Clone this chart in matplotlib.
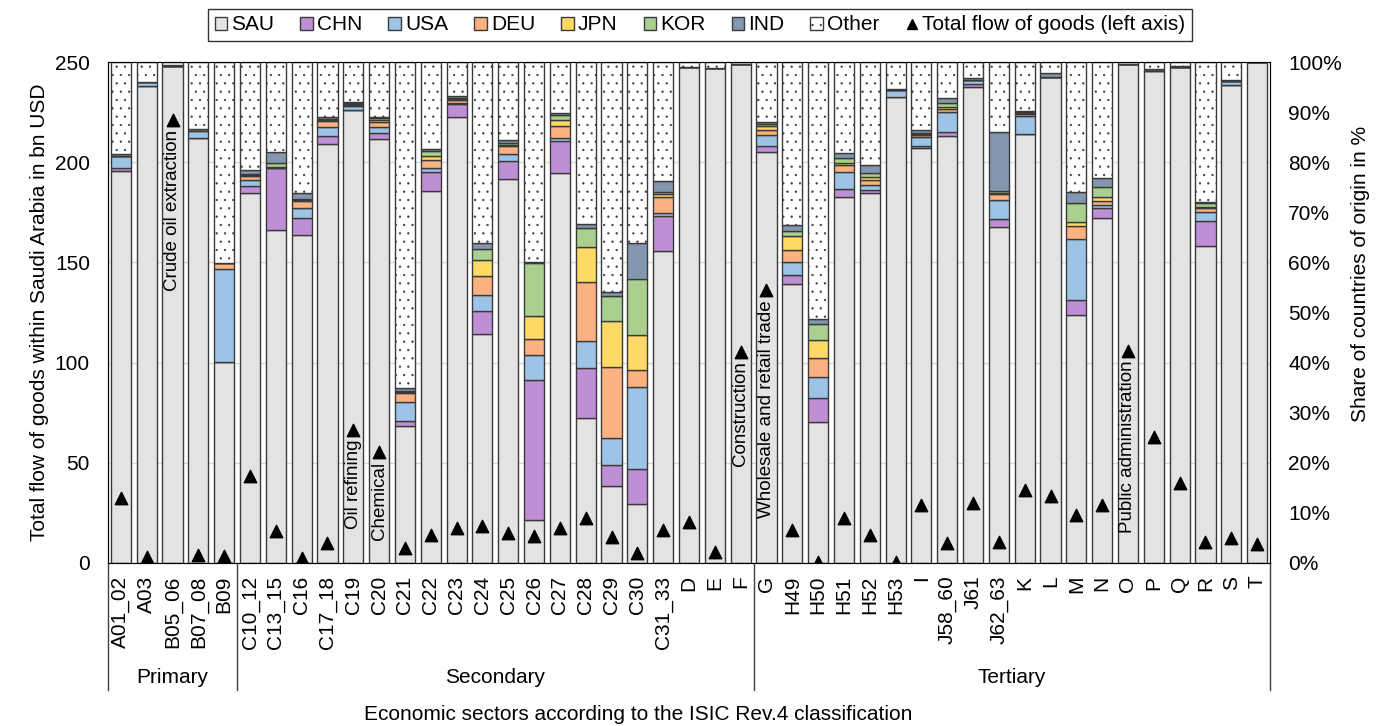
import matplotlib
matplotlib.use("Agg")
import matplotlib.pyplot as plt
from matplotlib.patches import Patch
from matplotlib.lines import Line2D
import numpy as np

plt.rcParams['font.family'] = ['Liberation Sans', 'DejaVu Sans']
plt.rcParams['hatch.color'] = '#808080'
plt.rcParams['hatch.linewidth'] = 0.4

sectors = ["A01_02", "A03", "B05_06", "B07_08", "B09",
           "C10_12", "C13_15", "C16", "C17_18", "C19", "C20", "C21", "C22", "C23", "C24",
           "C25", "C26", "C27", "C28", "C29", "C30", "C31_33", "D", "E", "F",
           "G", "H49", "H50", "H51", "H52", "H53", "I", "J58_60", "J61", "J62_63",
           "K", "L", "M", "N", "O", "P", "Q", "R", "S", "T"]

# shares in % (Other = remainder to 100)
sau = [78.2, 95.2, 99.2, 84.8, 40.1,
       73.8, 66.5, 65.5, 83.6, 90.4, 84.6, 27.3, 74.3, 89.1, 45.8,
       76.6, 8.6, 77.9, 28.9, 15.4, 11.7, 62.3, 99.1, 98.9, 99.7,
       82.1, 55.6, 28.2, 73.1, 73.9, 93.1, 82.8, 85.3, 95.1, 67.0,
       85.6, 97.1, 49.5, 68.8, 99.7, 98.2, 99.1, 63.3, 95.5, 100.0]
chn = [0.7, 0, 0, 0, 0,
       1.4, 12.3, 3.4, 1.7, 0, 1.2, 1.0, 3.7, 2.5, 4.5,
       3.6, 27.9, 6.3, 10.0, 4.2, 7.1, 7.0, 0, 0, 0,
       1.2, 1.9, 4.8, 1.5, 0.5, 0, 0.4, 0.7, 0.5, 1.6,
       0, 0, 3.0, 2.1, 0, 0, 0, 5.0, 0, 0]
usa = [2.4, 0.9, 0, 1.4, 18.6,
       1.3, 0, 1.9, 1.8, 0.9, 1.2, 3.9, 0.9, 0.2, 3.2,
       1.4, 5.0, 0.6, 5.4, 5.4, 16.4, 0.5, 0, 0, 0,
       2.1, 2.6, 4.1, 3.4, 1.0, 1.3, 1.9, 4.0, 0.8, 3.9,
       3.7, 0, 12.1, 0.6, 0, 0.5, 0, 1.8, 0.7, 0]
deu = [0, 0, 0, 0.4, 1.1,
       0.8, 0.2, 1.5, 1.1, 0.2, 1.1, 1.7, 1.5, 0.6, 3.8,
       1.6, 3.3, 2.4, 11.8, 14.1, 3.3, 3.3, 0, 0, 0,
       1.0, 2.4, 3.8, 1.4, 1.0, 0, 0.3, 0.6, 0, 1.1,
       0.3, 0, 2.7, 0.8, 0, 0, 0, 0.7, 0, 0]
jpn = [0, 0, 0, 0, 0,
       0.2, 0.1, 0.2, 0.3, 0.1, 0.3, 0.3, 0.8, 0.3, 3.2,
       0.3, 4.6, 1.2, 7.0, 9.3, 7.1, 0.5, 0, 0, 0,
       0.9, 2.8, 3.6, 0.4, 0.7, 0, 0.2, 0.5, 0, 0.2,
       0.2, 0, 0.8, 0.8, 0, 0, 0, 0.3, 0, 0]
kor = [0, 0, 0, 0, 0,
       0.2, 0.8, 0.2, 0.2, 0.2, 0.5, 0.2, 1.0, 0.2, 2.1,
       0.3, 10.4, 1.0, 3.7, 4.9, 11.0, 0.5, 0, 0, 0,
       0.3, 1.0, 3.3, 1.1, 0.7, 0, 0.2, 0.8, 0, 0.5,
       0.2, 0, 3.7, 2.0, 0, 0, 0, 0.7, 0, 0]
ind = [0.3, 0, 0.2, 0, 0,
       0.7, 2.2, 1.2, 0.3, 0.3, 0.2, 0.6, 0.4, 0.4, 1.3,
       0.6, 0.3, 0.5, 0.8, 0.7, 7.2, 2.1, 0, 0, 0,
       0.5, 1.2, 0.9, 0.9, 1.6, 0.3, 0.6, 1.0, 0.5, 11.8,
       0.2, 0.7, 2.2, 1.8, 0, 0, 0.2, 0.2, 0.3, 0]

# total flow of goods, bn USD (left axis)
total = [32.6, 3.2, 221, 4.0, 3.7,
         43.6, 16.0, 2.6, 9.8, 66.4, 55.5, 7.3, 14.0, 17.6, 18.6,
         14.8, 13.6, 17.6, 22.6, 13.1, 4.8, 16.5, 20.6, 5.3, 105.4,
         136, 16.5, 0.6, 22.6, 14.0, 0.6, 29.0, 9.8, 29.8, 10.6,
         36.4, 33.6, 24.0, 29.0, 106, 63, 39.8, 10.3, 12.3, 9.3]

notes = {"B05_06": "Crude oil extraction", "C19": "Oil refining", "C20": "Chemical",
         "F": "Construction", "G": "Wholesale and retail trade", "O": "Public administration"}

series = [("SAU", sau, "#e3e3e3"), ("CHN", chn, "#bf8fd6"), ("USA", usa, "#9dc3e6"),
          ("DEU", deu, "#fbb282"), ("JPN", jpn, "#ffd966"), ("KOR", kor, "#a9d08e"),
          ("IND", ind, "#8497b0")]

x = np.arange(len(sectors))
fs = 15
edge = "#3a3a3a"

fig = plt.figure(figsize=(13.84, 7.26), dpi=100)
ax = fig.add_axes([108 / 1384, 1 - 563 / 726, (1270 - 108) / 1384, 501 / 726])

bottom = np.zeros(len(sectors))
for name, vals, col in series:
    v = np.array(vals, dtype=float)
    ax.bar(x, v, 0.78, bottom=bottom, color=col, edgecolor=edge, linewidth=1, zorder=2)
    bottom += v
other = 100 - bottom
ax.bar(x, other, 0.78, bottom=bottom, color="white", edgecolor=edge, linewidth=1,
       hatch="..", zorder=2)

for g in [20, 40, 60, 80]:
    ax.axhline(g, color="#d9d9d9", linewidth=1, zorder=0)

ax.set_xlim(-0.5, len(sectors) - 0.5)
ax.set_ylim(0, 100)
ax.set_xticks(x)
ax.set_xticklabels(sectors, rotation=90)
for s in ax.spines.values():
    s.set_color("#404040")

ax2 = ax.twinx()
ax2.set_ylim(0, 250)
ax2.yaxis.tick_left()
ax2.set_yticks(np.arange(0, 251, 50))
ax2.tick_params(axis="y", length=0, labelsize=fs, pad=13)
ax2.scatter(x, total, marker="^", s=80, color="black", zorder=5)
for i, s in enumerate(sectors):
    if s in notes:
        ax2.annotate(notes[s], (x[i], total[i]), xytext=(0, -7), textcoords="offset points",
                     rotation=90, ha="center", va="top", fontsize=13.5)

# percent axis on the right (set after twinx, which resets the side)
ax.yaxis.tick_right()
ax.set_yticks(np.arange(0, 101, 10))
ax.set_yticklabels([f"{t}%" for t in range(0, 101, 10)])
ax.tick_params(axis="both", length=0, labelsize=fs)
ax.tick_params(axis="y", pad=13)
ax.tick_params(axis="x", pad=9)

# sector groups below the axis
tr = ax.get_xaxis_transform()
for b in [-0.5, 4.5, 24.5, 44.5]:
    ax.plot([b, b], [0, -0.2535], transform=tr, color="#404040", linewidth=1, clip_on=False)
for pos, lab in [(2, "Primary"), (14.5, "Secondary"), (34.5, "Tertiary")]:
    ax.text(pos, -0.2295, lab, transform=tr, ha="center", va="center", fontsize=fs)

fig.text(638 / 1384, 1 - 715 / 726, "Economic sectors according to the ISIC Rev.4 classification",
         ha="center", va="center", fontsize=fs)
fig.text(40 / 1384, 1 - 312 / 726, "Total flow of goods within Saudi Arabia in bn USD",
         rotation=90, ha="center", va="center", fontsize=fs)
fig.text(1361 / 1384, 1 - 274 / 726, "Share of countries of origin in %",
         rotation=90, ha="center", va="center", fontsize=fs)

handles = [Patch(facecolor=c, edgecolor=edge, label=n) for n, _, c in series]
handles.append(Patch(facecolor="white", edgecolor=edge, hatch="..", label="Other"))
handles.append(Line2D([], [], marker="^", color="black", linestyle="none", markersize=7,
                      label="Total flow of goods (left axis)"))
leg = fig.legend(handles=handles, loc="center", bbox_to_anchor=(700 / 1384, 1 - 25 / 726),
                 ncol=9, fontsize=fs, frameon=True, fancybox=False, handlelength=0.6,
                 handleheight=0.6, handletextpad=0.2, columnspacing=1.25, borderpad=0.3)
leg.get_frame().set_edgecolor("black")
leg.get_frame().set_linewidth(1)

fig.savefig("out.png", dpi=100)
